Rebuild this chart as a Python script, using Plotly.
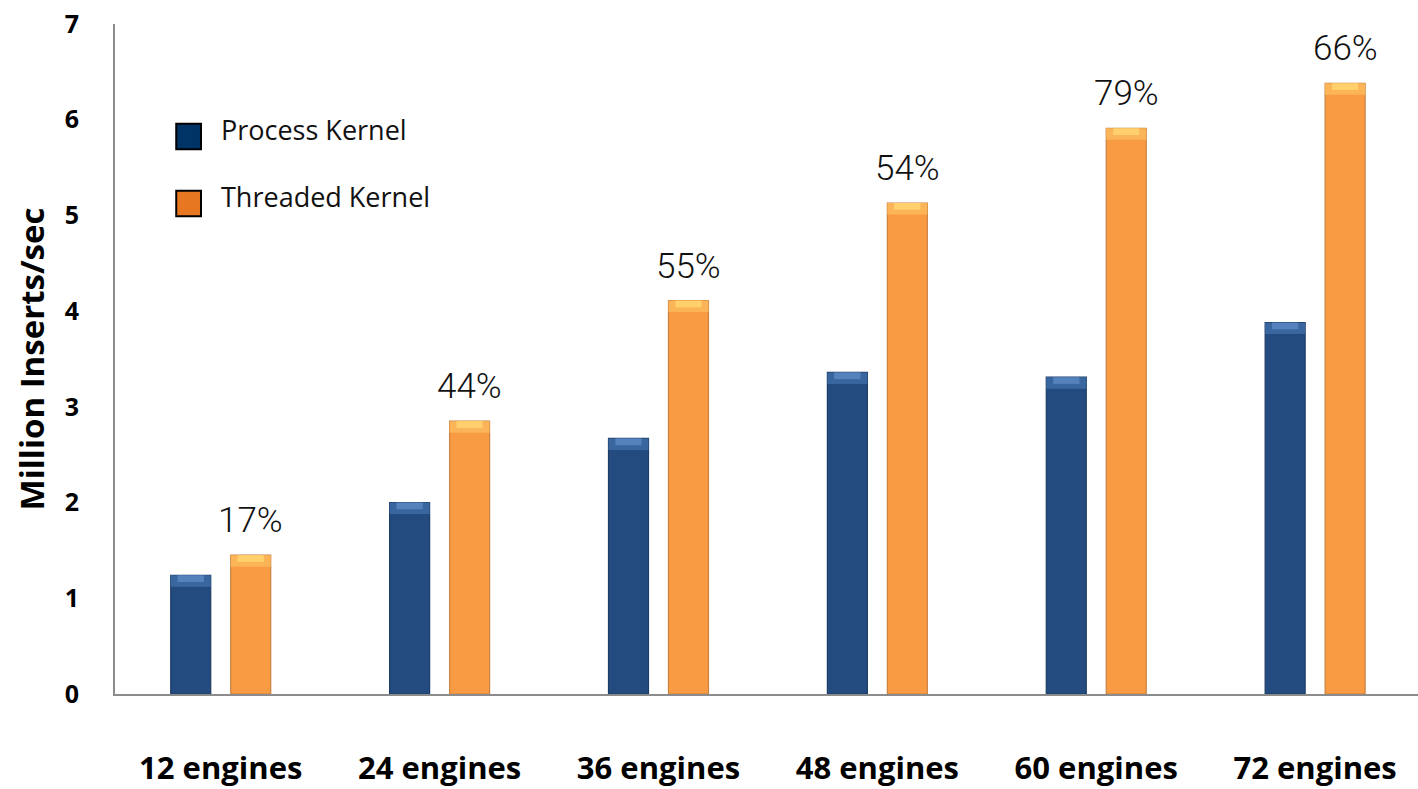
import plotly.graph_objects as go

# Insert throughput per engine count, million inserts/sec
categories = ["12 engines", "24 engines", "36 engines", "48 engines", "60 engines", "72 engines"]
process_kernel = [1.24, 2.00, 2.67, 3.36, 3.31, 3.88]
threaded_kernel = [1.45, 2.85, 4.11, 5.13, 5.91, 6.38]
gain_labels = ["17%", "44%", "55%", "54%", "79%", "66%"]
y_ticks = [0, 1, 2, 3, 4, 5, 6, 7]

BLUE = "#244b7f"
BLUE_EDGE = "#1d3d66"
BLUE_CAP_OUTER = "#3a66a0"
BLUE_CAP_INNER = "#5582bd"
ORANGE = "#f99b42"
ORANGE_EDGE = "#c98240"
ORANGE_CAP_OUTER = "#fbb457"
ORANGE_CAP_INNER = "#ffd06c"
CAP = 0.12        # height of the bevel highlight, in axis units
CAP_INNER = 0.07

fig = go.Figure()

# Main bar bodies
fig.add_trace(go.Bar(
    x=categories, y=process_kernel, offsetgroup="p", name="Process Kernel",
    marker=dict(color=BLUE, line=dict(color=BLUE_EDGE, width=1.2)),
    showlegend=False, hoverinfo="y",
))
fig.add_trace(go.Bar(
    x=categories, y=threaded_kernel, offsetgroup="t", name="Threaded Kernel",
    marker=dict(color=ORANGE, line=dict(color=ORANGE_EDGE, width=1.2)),
    showlegend=False, hoverinfo="y",
))

# Bevel highlight along the top of each bar: a soft outer band and a lighter inner one
for vals, outer, inner in [
    (process_kernel, BLUE_CAP_OUTER, BLUE_CAP_INNER),
    (threaded_kernel, ORANGE_CAP_OUTER, ORANGE_CAP_INNER),
]:
    grp = "p" if vals is process_kernel else "t"
    fig.add_trace(go.Bar(
        x=categories, y=[CAP] * len(vals), base=[v - CAP for v in vals],
        offsetgroup=grp, marker=dict(color=outer, line=dict(width=0)),
        showlegend=False, hoverinfo="skip",
    ))
    fig.add_trace(go.Bar(
        x=categories, y=[CAP_INNER] * len(vals), base=[v - CAP_INNER for v in vals],
        offsetgroup=grp, width=0.12, marker=dict(color=inner, line=dict(width=0)),
        showlegend=False, hoverinfo="skip",
    ))

# Speed-up labels above the threaded bars
for cat, val, lab in zip(categories, threaded_kernel, gain_labels):
    fig.add_annotation(
        x=cat, y=val, text=lab, showarrow=False,
        xanchor="center", yanchor="bottom", xshift=30, yshift=12,
        font=dict(family="Roboto", size=35, color="#111111", weight=300),
    )

# Legend drawn as swatches and labels
legend_items = [("Process Kernel", "#003366"), ("Threaded Kernel", "#e87722")]
for i, (label, color) in enumerate(legend_items):
    cy = 0.832 - i * 0.1
    fig.add_shape(
        type="rect", xref="paper", yref="paper",
        x0=0.047, x1=0.066, y0=cy - 0.019, y1=cy + 0.019,
        fillcolor=color, line=dict(color="#000000", width=2),
    )
    fig.add_annotation(
        xref="paper", yref="paper", x=0.080, y=cy + 0.011, text=label,
        showarrow=False, xanchor="left", yanchor="middle",
        font=dict(family="Open Sans", size=27, color="#111111"),
    )

fig.update_layout(
    width=1418, height=789,
    margin=dict(l=115, r=0, t=24, b=95),
    paper_bgcolor="white", plot_bgcolor="white",
    barmode="group", bargap=0.452, bargroupgap=0.333,
    showlegend=False,
    xaxis=dict(
        type="category", range=[-0.483, 5.47],
        showline=True, linecolor="#8c8c8c", linewidth=2,
        showgrid=False, ticks="", ticklabelstandoff=46,
        tickfont=dict(family="Open Sans", size=31, color="#000000", weight="bold"),
    ),
    yaxis=dict(
        range=[0, 7], tickvals=y_ticks,
        showline=True, linecolor="#8c8c8c", linewidth=2,
        showgrid=False, zeroline=False, ticks="", ticklabelstandoff=29,
        tickfont=dict(family="Open Sans", size=25, color="#000000", weight="bold"),
        title=dict(
            text="Million Inserts/sec", standoff=10,
            font=dict(family="Open Sans", size=33, color="#000000", weight="bold"),
        ),
    ),
)

fig.write_html("out.html")
